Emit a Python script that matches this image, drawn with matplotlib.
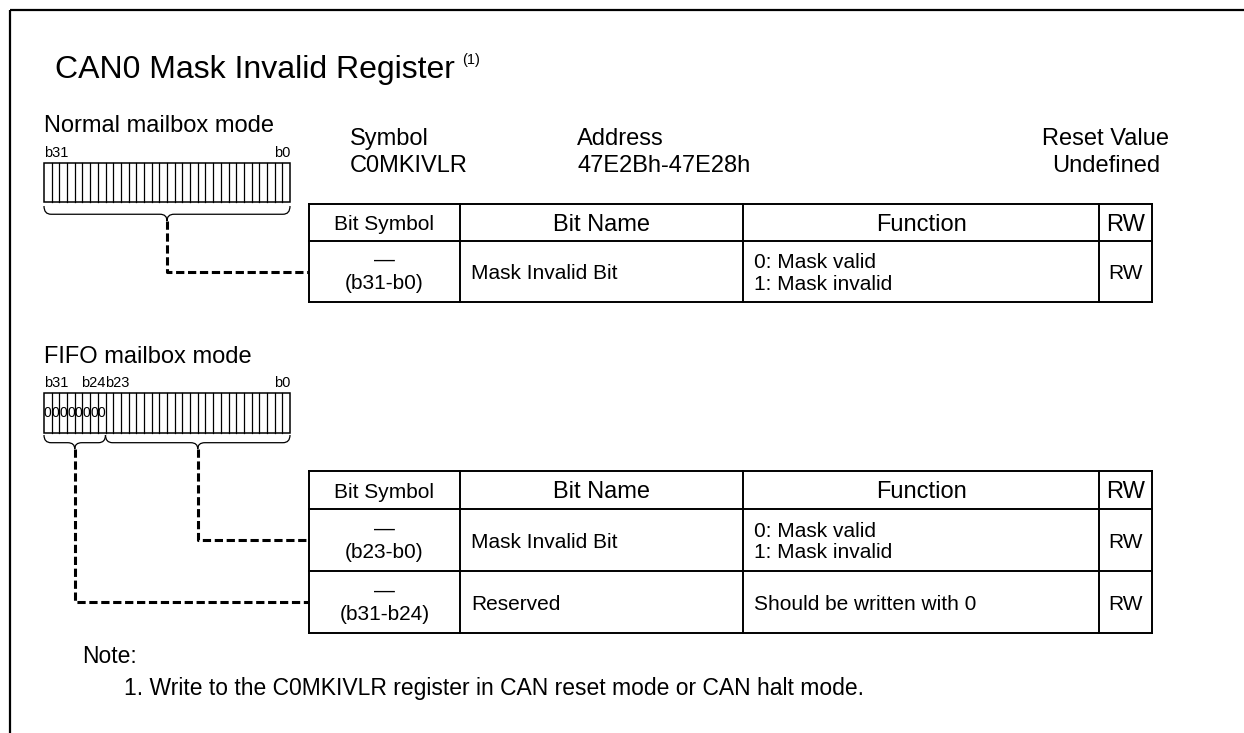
import matplotlib
matplotlib.use("Agg")
import matplotlib.pyplot as plt
from matplotlib.path import Path
from matplotlib.patches import PathPatch, Rectangle

plt.rcParams['font.family'] = ['Liberation Sans', 'DejaVu Sans']

# ---------------- data ----------------
title = "CAN0 Mask Invalid Register"
title_note = "(1)"
symbol_label, symbol_value = "Symbol", "C0MKIVLR"
address_label, address_value = "Address", "47E2Bh-47E28h"
reset_label, reset_value = "Reset Value", "Undefined"

header = ["Bit Symbol", "Bit Name", "Function", "RW"]

normal_mode = "Normal mailbox mode"
normal_ranges = [(31, 0)]
normal_symbols = ["(b31-b0)"]
normal_names = ["Mask Invalid Bit"]
normal_funcs = [["0: Mask valid", "1: Mask invalid"]]
normal_rw = ["RW"]
normal_bit_labels = {31: "b31", 0: "b0"}

fifo_mode = "FIFO mailbox mode"
fifo_ranges = [(23, 0), (31, 24)]
fifo_symbols = ["(b23-b0)", "(b31-b24)"]
fifo_names = ["Mask Invalid Bit", "Reserved"]
fifo_funcs = [["0: Mask valid", "1: Mask invalid"], ["Should be written with 0"]]
fifo_rw = ["RW", "RW"]
fifo_bit_labels = {31: "b31", 24: "b24", 23: "b23", 0: "b0"}
fifo_fixed_bits = [31, 30, 29, 28, 27, 26, 25, 24]
fixed_value = "0"

note_head = "Note:"
notes = ["1. Write to the C0MKIVLR register in CAN reset mode or CAN halt mode."]

# ---------------- layout ----------------
W, H = 1244, 733
fig = plt.figure(figsize=(W / 100, H / 100), dpi=100)
ax = fig.add_axes([0, 0, 1, 1])
ax.set_xlim(0, W)
ax.set_ylim(H, 0)
ax.axis('off')

BODY = 15
HEAD = 17

# frame (top and left)
ax.plot([10, W], [10, 10], color='black', lw=1.6, solid_capstyle='butt')
ax.plot([10, 10], [10, H], color='black', lw=1.6, solid_capstyle='butt')

t = ax.text(55, 78, title, fontsize=23, va='baseline', ha='left')
fig.canvas.draw()
bb = t.get_window_extent(renderer=fig.canvas.get_renderer())
ax.text(bb.x1 + 7, 64, title_note, fontsize=10.5, va='baseline', ha='left')

ax.text(350, 145, symbol_label, fontsize=HEAD, va='baseline')
ax.text(350, 172, symbol_value, fontsize=HEAD, va='baseline')
ax.text(577, 145, address_label, fontsize=HEAD, va='baseline')
ax.text(577, 172, address_value, fontsize=HEAD, va='baseline')
ax.text(1106, 145, reset_label, fontsize=HEAD, va='baseline', ha='center')
ax.text(1106, 172, reset_value, fontsize=HEAD, va='baseline', ha='center')

BX0, BX1 = 44, 290
CW = (BX1 - BX0) / 32.0


def bit_x(b):
    return BX0 + (31 - b) * CW


def bit_box(ytop, ybot, labels, fixed):
    ax.add_patch(Rectangle((BX0, ytop), BX1 - BX0, ybot - ytop, fill=False,
                           ec='black', lw=1.1))
    for i in range(1, 32):
        x = BX0 + i * CW
        ax.plot([x, x], [ytop, ybot], color='black', lw=0.9)
    yl = ytop - 6
    for b, s in labels.items():
        if b == 0:
            ax.text(BX1, yl, s, fontsize=10.5, ha='right', va='baseline')
        elif b == 24:
            ax.text(bit_x(b) + CW, yl, s, fontsize=10.5, ha='right', va='baseline')
        else:
            ax.text(bit_x(b), yl, s, fontsize=10.5, ha='left', va='baseline')
    for b in fixed:
        ax.text(bit_x(b) + CW / 2, (ytop + ybot) / 2, fixed_value, fontsize=10,
                ha='center', va='center')


def brace(x0, x1, y0, h):
    xm = (x0 + x1) / 2
    r = min(7, (x1 - x0) / 4)
    ym = y0 + h * 0.55
    verts = [(x0, y0), (x0, ym), (x0 + r, ym),
             (xm - r, ym), (xm, ym), (xm, y0 + h),
             (xm, ym), (xm + r, ym),
             (x1 - r, ym), (x1, ym), (x1, y0)]
    codes = [Path.MOVETO, Path.CURVE3, Path.CURVE3,
             Path.LINETO, Path.CURVE3, Path.CURVE3,
             Path.CURVE3, Path.CURVE3,
             Path.LINETO, Path.CURVE3, Path.CURVE3]
    ax.add_patch(PathPatch(Path(verts, codes), fill=False, ec='black', lw=0.9))
    return xm, y0 + h


def table(x_cols, y_rows, symbols, names, funcs, rws):
    lw = 1.4
    for y in y_rows:
        ax.plot([x_cols[0], x_cols[-1]], [y, y], color='black', lw=lw,
                solid_capstyle='projecting')
    for x in x_cols:
        ax.plot([x, x], [y_rows[0], y_rows[-1]], color='black', lw=lw,
                solid_capstyle='projecting')
    hy = (y_rows[0] + y_rows[1]) / 2
    ax.text((x_cols[0] + x_cols[1]) / 2, hy, header[0], fontsize=BODY,
            ha='center', va='center_baseline')
    for k in range(1, 4):
        ax.text((x_cols[k] + x_cols[k + 1]) / 2, hy, header[k], fontsize=HEAD,
                ha='center', va='center_baseline')
    centers = []
    for i in range(len(symbols)):
        ya, yb = y_rows[i + 1], y_rows[i + 2]
        yc = (ya + yb) / 2
        centers.append(yc)
        xc = (x_cols[0] + x_cols[1]) / 2
        ax.text(xc, yc - 13, "\u2014", fontsize=BODY, ha='center', va='center_baseline')
        ax.text(xc, yc + 10, symbols[i], fontsize=BODY, ha='center', va='center_baseline')
        ax.text(x_cols[1] + 11, yc, names[i], fontsize=BODY, ha='left',
                va='center_baseline')
        lines = funcs[i]
        n = len(lines)
        for j, s in enumerate(lines):
            ax.text(x_cols[2] + 11, yc + (j - (n - 1) / 2) * 21, s, fontsize=BODY,
                    ha='left', va='center_baseline')
        ax.text((x_cols[3] + x_cols[4]) / 2, yc, rws[i], fontsize=BODY,
                ha='center', va='center_baseline')
    return centers


def dashed(x0, y0, y1, x1):
    ax.plot([x0, x0, x1], [y0, y1, y1], color='black', lw=2.2,
            linestyle=(0, (2.7, 1.2)), dash_capstyle='butt', solid_joinstyle='miter')


cols = [309, 460, 743, 1099, 1152]

# ---- normal mode ----
ax.text(44, 132, normal_mode, fontsize=HEAD, va='baseline')
bit_box(163, 202, normal_bit_labels, [])
centers = table(cols, [204, 241, 302], normal_symbols, normal_names, normal_funcs, normal_rw)
for (hi, lo), yc in zip(normal_ranges, centers):
    tx, ty = brace(bit_x(hi), bit_x(lo) + CW, 206, 15)
    dashed(tx, ty, yc, cols[0])

# ---- FIFO mode ----
ax.text(44, 363, fifo_mode, fontsize=HEAD, va='baseline')
bit_box(393, 433, fifo_bit_labels, fifo_fixed_bits)
centers = table(cols, [471, 509, 571, 633], fifo_symbols, fifo_names, fifo_funcs, fifo_rw)
for (hi, lo), yc in zip(fifo_ranges, centers):
    tx, ty = brace(bit_x(hi), bit_x(lo) + CW, 435, 14)
    dashed(tx, ty, yc, cols[0])

ax.text(82, 663, note_head, fontsize=16.5, va='baseline')
for i, n in enumerate(notes):
    ax.text(124, 695 + 26 * i, n, fontsize=16.5, va='baseline')

fig.savefig("out.png", dpi=100)
